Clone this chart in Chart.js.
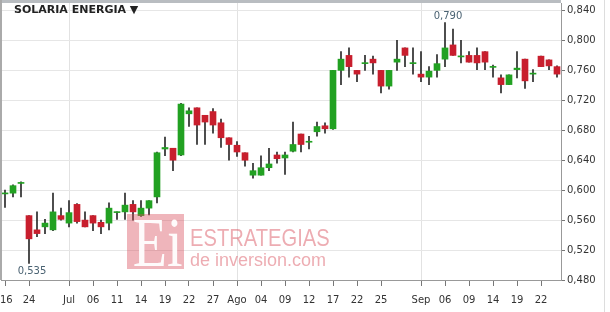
<!DOCTYPE html>
<html>
<head>
<meta charset="utf-8">
<script src="https://cdn.jsdelivr.net/npm/chart.js@4.4.0/dist/chart.umd.min.js"></script>
<style>
  body { margin: 0; background: #fff; }
  #wrap { position: relative; width: 610px; height: 312px; overflow: hidden; }
  #title { position: absolute; left: 14px; top: 3px; font: bold 11px/13px "DejaVu Sans"; color: #222; white-space: nowrap; }
  .wm { position: absolute; pointer-events: none; white-space: nowrap; }
  #wmBox { left: 127px; top: 214px; width: 57px; height: 55px; background: rgba(214, 70, 84, 0.4); overflow: hidden; }
  #wmBox span { display: block; font: 70px/58px "Liberation Serif"; color: rgba(255,255,255,0.95); text-align: center; transform: scaleX(0.8); }
  #wmTop { left: 190px; top: 226px; font: 24px/24px "Liberation Sans"; color: rgba(214, 70, 84, 0.45); transform: scaleX(0.84); transform-origin: left top; }
  #wmBottom { left: 190px; top: 251px; font: 18px/18px "Liberation Sans"; color: rgba(214, 70, 84, 0.45); }
</style>
</head>
<body>
<div id="wrap">
  <canvas id="chart" width="610" height="312"></canvas>
  <div id="title">SOLARIA ENERGIA ▼</div>
  <div class="wm" id="wmBox"><span>Ei</span></div>
  <div class="wm" id="wmTop">ESTRATEGIAS</div>
  <div class="wm" id="wmBottom">de inversion.com</div>
</div>
<script>
// trading days 21 Jun 2016 .. 26 Sep 2016, only some get a label
const xLabels = [
  "'16", "", "", "24", "", "", "", "", "Jul", "", "", "06", "", "", "11", "", "", "14", "", "", "19", "", "", "22",
  "", "", "27", "", "", "Ago", "", "", "04", "", "", "09", "", "", "12", "", "", "17", "", "", "22", "", "", "25",
  "", "", "", "", "Sep", "", "", "06", "", "", "09", "", "", "14", "", "", "19", "", "", "22", "", ""
];
const monthStarts = ["Jul", "Ago", "Sep"];

const opens = [
  0.595, 0.596, 0.609, 0.566, 0.547, 0.551, 0.547, 0.566, 0.556, 0.581, 0.560, 0.566, 0.557, 0.556,
  0.570, 0.571, 0.581, 0.566, 0.576, 0.591, 0.655, 0.656, 0.647, 0.702, 0.710, 0.700, 0.705, 0.690,
  0.670, 0.660, 0.650, 0.620, 0.620, 0.630, 0.647, 0.643, 0.652, 0.675, 0.664, 0.678, 0.686, 0.682,
  0.760, 0.780, 0.760, 0.769, 0.775, 0.760, 0.739, 0.771, 0.790, 0.769, 0.755, 0.751, 0.760, 0.775,
  0.794, 0.778, 0.780, 0.780, 0.785, 0.764, 0.750, 0.741, 0.761, 0.775, 0.755, 0.779, 0.774, 0.765
];
const highs = [
  0.600, 0.607, 0.611, 0.566, 0.571, 0.561, 0.596, 0.576, 0.586, 0.582, 0.571, 0.566, 0.560, 0.583,
  0.571, 0.596, 0.586, 0.586, 0.586, 0.651, 0.671, 0.656, 0.716, 0.710, 0.710, 0.700, 0.709, 0.695,
  0.670, 0.665, 0.650, 0.636, 0.646, 0.656, 0.651, 0.651, 0.691, 0.675, 0.672, 0.691, 0.690, 0.760,
  0.785, 0.790, 0.760, 0.780, 0.779, 0.760, 0.760, 0.800, 0.790, 0.790, 0.785, 0.765, 0.781, 0.824,
  0.815, 0.800, 0.785, 0.790, 0.785, 0.767, 0.754, 0.754, 0.785, 0.775, 0.761, 0.779, 0.774, 0.766
];
const lows = [
  0.577, 0.591, 0.591, 0.502, 0.538, 0.542, 0.546, 0.560, 0.551, 0.556, 0.551, 0.546, 0.542, 0.547,
  0.561, 0.561, 0.560, 0.565, 0.567, 0.583, 0.646, 0.626, 0.646, 0.685, 0.661, 0.661, 0.676, 0.657,
  0.640, 0.645, 0.632, 0.616, 0.620, 0.626, 0.636, 0.621, 0.651, 0.651, 0.655, 0.672, 0.676, 0.681,
  0.741, 0.751, 0.745, 0.760, 0.755, 0.730, 0.735, 0.760, 0.765, 0.755, 0.745, 0.741, 0.751, 0.765,
  0.780, 0.770, 0.771, 0.761, 0.761, 0.751, 0.730, 0.741, 0.750, 0.736, 0.745, 0.765, 0.761, 0.751
];
const closes = [
  0.596, 0.606, 0.610, 0.535, 0.542, 0.556, 0.571, 0.561, 0.570, 0.558, 0.551, 0.556, 0.551, 0.576,
  0.571, 0.580, 0.571, 0.576, 0.586, 0.650, 0.657, 0.640, 0.715, 0.706, 0.687, 0.691, 0.687, 0.670,
  0.661, 0.651, 0.640, 0.626, 0.630, 0.635, 0.642, 0.647, 0.661, 0.661, 0.665, 0.685, 0.682, 0.760,
  0.775, 0.765, 0.755, 0.770, 0.770, 0.739, 0.760, 0.775, 0.780, 0.770, 0.751, 0.759, 0.769, 0.790,
  0.780, 0.779, 0.771, 0.770, 0.771, 0.765, 0.741, 0.754, 0.763, 0.746, 0.756, 0.765, 0.766, 0.755
];

const upColor = "#22a122";
const downColor = "#c81e2d";
const fontFamily = "DejaVu Sans";
const fmt = v => v.toFixed(3).replace(".", ",");

// frame, and the labels on the highest and lowest close
const extrasPlugin = {
  id: "extras",
  afterDraw(chart) {
    const { ctx, chartArea: a, scales: { x, y } } = chart;
    ctx.save();
    ctx.fillStyle = "#b9bdc1";
    ctx.fillRect(0, 0, a.right, 3);
    ctx.fillStyle = "#aaaaaa";
    ctx.fillRect(0, 0, 2, a.bottom);
    ctx.fillStyle = "#dddddd";
    ctx.fillRect(604, 0, 1, chart.height);

    const iMax = closes.indexOf(Math.max(...closes));
    const iMin = closes.indexOf(Math.min(...closes));
    ctx.font = "10px " + fontFamily;
    ctx.fillStyle = "#4a6272";
    ctx.textAlign = "center";
    ctx.textBaseline = "middle";
    ctx.fillText(fmt(closes[iMax]), x.getPixelForValue(iMax) + 3, y.getPixelForValue(highs[iMax]) - 6);
    ctx.fillText(fmt(closes[iMin]), x.getPixelForValue(iMin) + 3, y.getPixelForValue(lows[iMin]) + 8);
    ctx.restore();
  }
};

new Chart(document.getElementById("chart"), {
  type: "bar",
  data: {
    labels: xLabels,
    datasets: [
      {
        label: "body",
        data: opens.map((o, i) => [o, closes[i]]),
        backgroundColor: opens.map((o, i) => closes[i] >= o ? upColor : downColor),
        barThickness: 6,
        minBarLength: 1,
        grouped: false,
        borderWidth: 0
      },
      {
        label: "wick",
        data: lows.map((l, i) => [l, highs[i]]),
        backgroundColor: "#2a2a2a",
        barThickness: 1,
        grouped: false,
        borderWidth: 0
      }
    ]
  },
  options: {
    responsive: false,
    animation: false,
    layout: { padding: { left: 1, top: 3, right: 0, bottom: 0 } },
    plugins: { legend: { display: false }, tooltip: { enabled: false } },
    scales: {
      x: {
        offset: true,
        grid: {
          offset: false,
          color: c => monthStarts.includes(xLabels[c.index]) ? "#e2e2e2" : "rgba(0,0,0,0)",
          tickColor: c => xLabels[c.index] ? "#777" : "rgba(0,0,0,0)",
          tickLength: 6
        },
        border: { color: "#999" },
        ticks: {
          autoSkip: false, maxRotation: 0, minRotation: 0, padding: 8,
          color: "#333", font: { family: fontFamily, size: 10 }
        },
        afterFit(s) { s.height = 32; s.paddingLeft = 0; s.paddingRight = 0; }
      },
      y: {
        position: "right",
        min: 0.48,
        max: 0.85,
        grid: { color: "#e6e6e6", tickColor: "#777", tickLength: 4 },
        border: { color: "#999" },
        ticks: {
          stepSize: 0.04, includeBounds: false, padding: 2,
          color: "#333", font: { family: fontFamily, size: 10 },
          callback: v => fmt(v)
        },
        afterFit(s) { s.width = 49; s.paddingTop = 0; s.paddingBottom = 0; }
      }
    }
  },
  plugins: [extrasPlugin]
});
</script>
</body>
</html>
